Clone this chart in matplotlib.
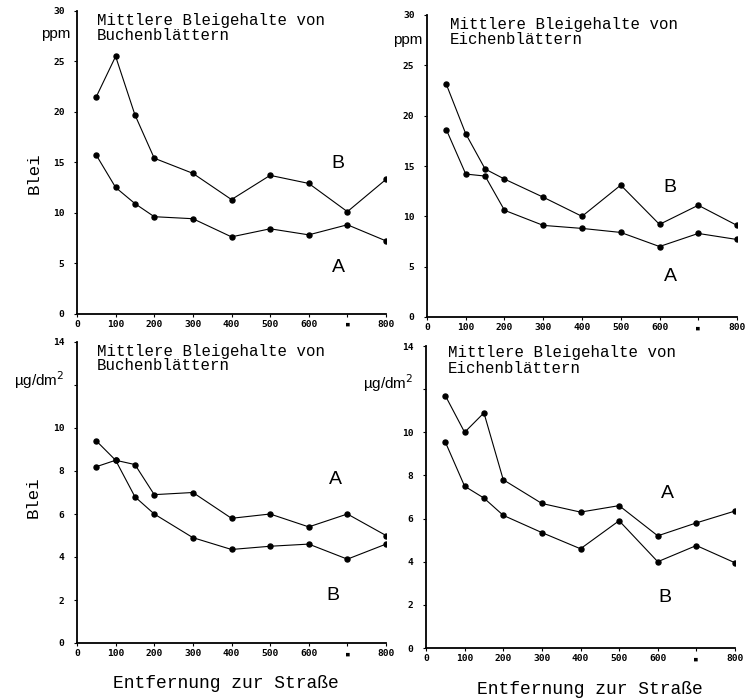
import matplotlib
matplotlib.use('Agg')
import matplotlib.pyplot as plt

W, H = 749, 699

# distances to the road (m)
dist = [50, 100, 150, 200, 300, 400, 500, 600, 700, 800]
x_ticks = [0, 100, 200, 300, 400, 500, 600, 700, 800]
x_tick_labels = ['0', '100', '200', '300', '400', '500', '600', '▪', '800']

# lead content, ppm
buche_ppm_A = [15.7, 12.5, 10.9, 9.6, 9.4, 7.6, 8.4, 7.8, 8.8, 7.2]
buche_ppm_B = [21.5, 25.5, 19.7, 15.4, 13.9, 11.3, 13.7, 12.9, 10.1, 13.3]
eiche_ppm_A = [18.6, 14.2, 14.0, 10.6, 9.1, 8.8, 8.4, 7.0, 8.3, 7.7]
eiche_ppm_B = [23.1, 18.2, 14.7, 13.7, 11.9, 10.0, 13.1, 9.2, 11.1, 9.1]

# lead content, ug/dm2
buche_fl_A = [8.2, 8.5, 8.3, 6.9, 7.0, 5.8, 6.0, 5.4, 6.0, 5.0]
buche_fl_B = [9.4, 8.5, 6.8, 6.0, 4.9, 4.35, 4.5, 4.6, 3.9, 4.6]
eiche_fl_A = [11.7, 10.0, 10.9, 7.8, 6.7, 6.3, 6.6, 5.2, 5.8, 6.35]
eiche_fl_B = [9.55, 7.5, 6.95, 6.15, 5.35, 4.6, 5.9, 4.0, 4.75, 3.95]

MONO = 'Liberation Mono'
SANS = 'Liberation Sans'

fig = plt.figure(figsize=(W / 100, H / 100), dpi=100)
fig.patch.set_facecolor('white')


def px_axes(x0, x1, y0, y1):
    # pixel box (left, right, bottom, top) -> figure axes
    return fig.add_axes([x0 / W, 1 - y0 / H, (x1 - x0) / W, (y0 - y1) / H])


def ftext(x, y, s, **kw):
    fig.text(x / W, 1 - y / H, s, **kw)


def panel(ax, A, B, ymax, ystep, yskip=()):
    ax.plot(dist, A, color='black', lw=0.8, marker='o', ms=3.6)
    ax.plot(dist, B, color='black', lw=0.8, marker='o', ms=3.6)
    ax.set_xlim(0, 800)
    ax.set_ylim(0, ymax)
    for s in ['top', 'right']:
        ax.spines[s].set_visible(False)
    for s in ['left', 'bottom']:
        ax.spines[s].set_linewidth(1.3)
    yt = list(range(0, ymax + 1, ystep))
    ax.set_yticks(yt)
    ax.set_yticklabels(['' if v in yskip else str(v) for v in yt])
    ax.set_xticks(x_ticks)
    ax.set_xticklabels(x_tick_labels)
    ax.tick_params(direction='out', length=2, width=0.8)
    ax.tick_params(axis='x', pad=2.5)
    ax.tick_params(axis='y', pad=7)
    for lab in ax.get_xticklabels() + ax.get_yticklabels():
        lab.set_family(['DejaVu Sans Mono', 'DejaVu Sans'])
        lab.set_fontweight('bold')
        lab.set_fontsize(6.8)
    ax.patch.set_alpha(0)


def title(x, y, plant):
    ftext(x, y, 'Mittlere Bleigehalte von', family=MONO, fontsize=11.3,
          va='center', ha='left')
    ftext(x, y + 15, plant, family=MONO, fontsize=11.3, va='center', ha='left')


ax1 = px_axes(77, 386, 313.5, 11)
panel(ax1, buche_ppm_A, buche_ppm_B, 30, 5)
ax2 = px_axes(427, 737, 317, 15)
panel(ax2, eiche_ppm_A, eiche_ppm_B, 30, 5)
ax3 = px_axes(77, 386, 643, 342)
panel(ax3, buche_fl_A, buche_fl_B, 14, 2, yskip=(12,))
ax4 = px_axes(426, 735, 648, 346)
panel(ax4, eiche_fl_A, eiche_fl_B, 14, 2, yskip=(12,))

title(97, 20, 'Buchenblättern')
title(450, 24, 'Eichenblättern')
title(97, 351, 'Buchenblättern')
title(448, 353, 'Eichenblättern')

ftext(56, 34, 'ppm', family=SANS, fontsize=11, va='center', ha='center')
ftext(408, 40, 'ppm', family=SANS, fontsize=11, va='center', ha='center')
ftext(39, 380, r'µg/dm$^2$', family=SANS, fontsize=11, va='center', ha='center')
ftext(388, 383, r'µg/dm$^2$', family=SANS, fontsize=11, va='center', ha='center')

ftext(34, 173, 'Blei', family=MONO, fontsize=12.5, rotation=90,
      va='center', ha='center')
ftext(33, 497, 'Blei', family=MONO, fontsize=12.5, rotation=90,
      va='center', ha='center')

ftext(226, 683, 'Entfernung zur Straße', family=MONO, fontsize=13,
      va='center', ha='center')
ftext(590, 690, 'Entfernung zur Straße', family=MONO, fontsize=13,
      va='center', ha='center')

# curve labels
for x, y, s in [(338, 163, 'B'), (338, 268, 'A'), (670, 188, 'B'), (670, 277, 'A'),
                (335, 480, 'A'), (333, 595, 'B'), (667, 493, 'A'), (665, 597, 'B')]:
    ftext(x, y, s, family=SANS, fontsize=14, va='center', ha='center')

fig.savefig('out.png', dpi=100)
